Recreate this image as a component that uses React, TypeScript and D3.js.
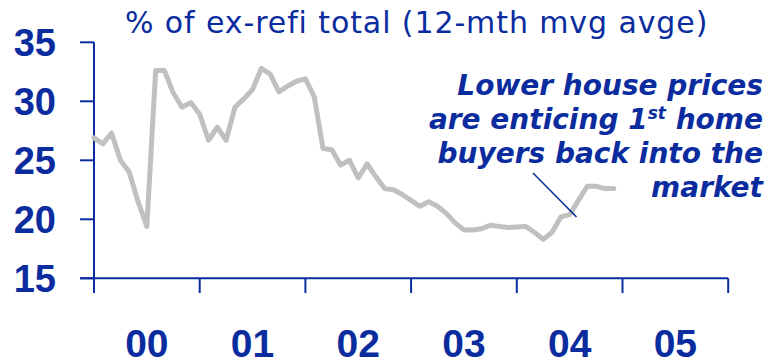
import React from "react";
import * as d3 from "d3";

const title = "% of ex-refi total (12-mth mvg avge)";
const startYear = 2000;
// monthly values, Jan 2000 - Dec 2004
const values: number[] = [
  26.9, 26.4, 27.3, 25.0, 24.0, 21.5, 19.4, 32.6, 32.6, 30.7, 29.5, 29.9,
  28.9, 26.7, 27.8, 26.7, 29.5, 30.2, 31.0, 32.8, 32.3, 30.8, 31.3, 31.7,
  31.9, 30.4, 26.0, 25.9, 24.6, 25.0, 23.5, 24.7, 23.6, 22.6, 22.5, 22.1,
  21.6, 21.1, 21.5, 21.1, 20.5, 19.7, 19.1, 19.1, 19.2, 19.5, 19.4, 19.3,
  19.35, 19.4, 18.9, 18.3, 18.9, 20.2, 20.4, 21.6, 22.8, 22.8, 22.6, 22.6,
];
const yTicks = [15, 20, 25, 30, 35];
const xTickYears = [2000, 2001, 2002, 2003, 2004, 2005, 2006];
const xLabels = ["00", "01", "02", "03", "04", "05"];
const noteLines = ["Lower house prices", "are enticing 1|st| home", "buyers back into the", "market"];

const BLUE = "#0a2c9e";

export default function App() {
  const x = d3.scaleLinear().domain([2000, 2006]).range([94, 728.2]);
  const y = d3.scaleLinear().domain([15, 35]).range([278.3, 42.3]);
  const line = d3
    .line<number>()
    .x((_, i) => x(startYear + i / 12))
    .y((d) => y(d));

  return (
    <svg
      width={772}
      height={362}
      style={{ position: "absolute", left: 0, top: 0, background: "#fff" }}
    >
      <text
        x={125}
        y={33}
        fill={BLUE}
        fontFamily="DejaVu Sans"
        fontSize={30}
        letterSpacing={0.9}
      >
        {title}
      </text>
      {/* axes */}
      <line x1={x(2000)} x2={x(2000)} y1={y(35)} y2={293} stroke={BLUE} strokeWidth={2} />
      <line x1={80} x2={x(2006)} y1={y(15)} y2={y(15)} stroke={BLUE} strokeWidth={2} />
      {yTicks.map((t) => (
        <g key={t}>
          <line x1={80} x2={x(2000)} y1={y(t)} y2={y(t)} stroke={BLUE} strokeWidth={2} />
          <text
            x={56}
            y={y(t) + 13.5}
            textAnchor="end"
            fill={BLUE}
            fontFamily="Liberation Sans, Arial"
            fontWeight="bold"
            fontSize={38}
          >
            {t}
          </text>
        </g>
      ))}
      {xTickYears.map((yr) => (
        <line key={yr} x1={x(yr)} x2={x(yr)} y1={y(15)} y2={293} stroke={BLUE} strokeWidth={2} />
      ))}
      {xLabels.map((l, i) => (
        <text
          key={l}
          x={x(2000 + i + 0.5)}
          y={357}
          textAnchor="middle"
          fill={BLUE}
          fontFamily="Liberation Sans, Arial"
          fontWeight="bold"
          fontSize={39}
        >
          {l}
        </text>
      ))}
      <path
        d={line(values) || ""}
        fill="none"
        stroke="#c0c0c0"
        strokeWidth={5}
        strokeLinejoin="round"
        strokeLinecap="round"
      />
      <line x1={533} y1={173} x2={576.5} y2={217} stroke={BLUE} strokeWidth={1.6} />
      {noteLines.map((l, i) => {
        const parts = l.split("|");
        return (
          <text
            key={i}
            x={763}
            y={95 + i * 34}
            textAnchor="end"
            fill={BLUE}
            fontFamily="DejaVu Sans"
            fontWeight="bold"
            fontStyle="italic"
            fontSize={28}
          >
            {parts.length === 1 ? (
              l
            ) : (
              <>
                <tspan>{parts[0]}</tspan>
                <tspan dy={-10} fontSize={17}>{parts[1]}</tspan>
                <tspan dy={10}>{parts[2]}</tspan>
              </>
            )}
          </text>
        );
      })}
    </svg>
  );
}
